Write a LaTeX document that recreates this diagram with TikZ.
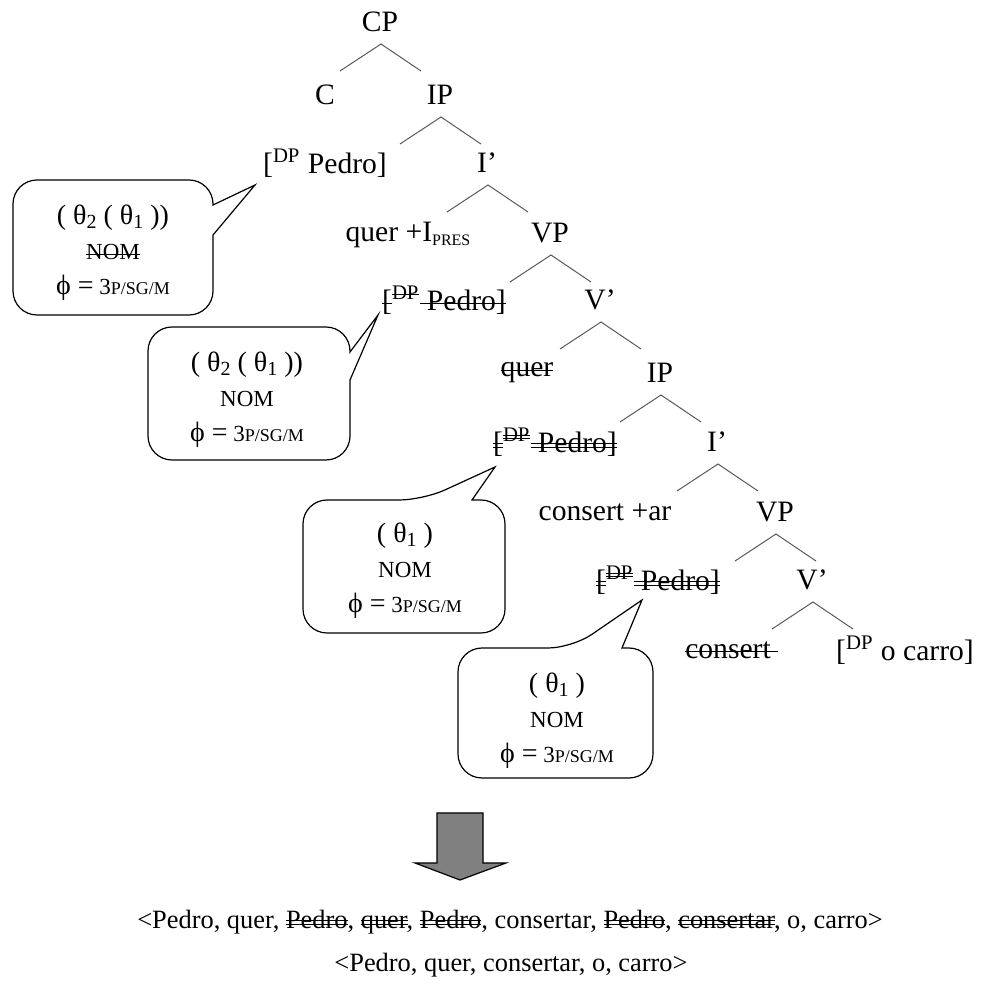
\documentclass[tikz,border=0pt]{standalone}
\usepackage{fontspec}
\setmainfont{Liberation Serif}
\usetikzlibrary{calc}
\newlength\strklen
\newcommand\strk[1]{\settowidth\strklen{#1}\rlap{\rule[0.45ex]{\strklen}{0.55pt}}#1}
\newcommand\dstrk[1]{\settowidth\strklen{#1}\rlap{\rule[0.3ex]{\strklen}{0.5pt}}\rlap{\rule[0.62ex]{\strklen}{0.5pt}}#1}
\newcommand\phifeat{{\fontsize{14}{17}\selectfont ϕ =} 3{\fontsize{9}{10}\selectfont P/SG/M}}
\newcommand\thsub[1]{θ{\fontsize{10}{10}\selectfont\raisebox{-0.45ex}{#1}}}
\begin{document}
\begin{tikzpicture}[x=0.5pt,y=-0.5pt,
	lbl/.style={font=\fontsize{14.8}{17}\selectfont,inner sep=1pt},
	bubtxt/.style={font=\fontsize{11.5}{17.5}\selectfont,align=center},
	bubble/.style={draw,line width=0.6pt,rounded corners=12pt},
	branch/.style={gray!70!black,line width=0.5pt}]
	\useasboundingbox (0,0) rectangle (997,988);
	% tree labels
	\node[lbl] (cp) at (380,22) {CP};
	\node[lbl] (c) at (325,95) {C};
	\node[lbl] (ip1) at (440,95) {IP};
	\node[lbl] (pedro1) at (325,163) {[\textsuperscript{DP} Pedro]};
	\node[lbl] (ibar1) at (487,163) {I’};
	\node[lbl] (quer1) at (408,235) {quer +I\raisebox{-0.3ex}{\fontsize{8}{9}\selectfont PRES}};
	\node[lbl] (vp1) at (550,233) {VP};
	\node[lbl] (pedro2) at (444,300) {\strk{[}\textsuperscript{\strk{DP}}\strk{ Pedro]}};
	\node[lbl] (vbar1) at (600,300) {V’};
	\node[lbl] (quer2) at (527,373) {\strk{quer}};
	\node[lbl] (ip2) at (660,373) {IP};
	\node[lbl] (pedro3) at (555,442) {\dstrk{[}\textsuperscript{\dstrk{DP}}\dstrk{ Pedro]}};
	\node[lbl] (ibar2) at (717,442) {I’};
	\node[lbl] (consert1) at (605,512) {consert +ar};
	\node[lbl] (vp2) at (775,512) {VP};
	\node[lbl] (pedro4) at (658,580) {\dstrk{[}\textsuperscript{\dstrk{DP}}\dstrk{ Pedro]}};
	\node[lbl] (vbar2) at (812,580) {V’};
	\node[lbl] (consert2) at (728,650) {\strk{consert }};
	\node[lbl] (carro) at (905,650) {[\textsuperscript{DP} o carro]};
	% branches
	\foreach \n in {cp,ip1,ibar1,vp1,vbar1,ip2,ibar2,vp2,vbar2}
	\draw[branch] ($(\n)+(-40,49)$) -- ($(\n)+(1,22)$) -- ($(\n)+(41,49)$);
	% speech bubbles
	\coordinate (t1) at ($(pedro1)+(-70,22)$);
	\coordinate (t2) at ($(pedro2)+(-66,15)$);
	\coordinate (t3) at ($(pedro3)+(-60,25)$);
	\coordinate (t4) at ($(pedro4)+(-16,20)$);
	\draw[bubble] (13,250) -- (13,180) -- (213,180) [sharp corners] -- (213,205) -- (t1) -- (213,235) [rounded corners=12pt] -- (213,315) -- (13,315) -- cycle;
	\draw[bubble] (148,400) -- (148,327) -- (350,327) [sharp corners] -- (350,352) -- (t2) -- (350,380) [rounded corners=12pt] -- (350,460) -- (148,460) -- cycle;
	\draw[bubble] (303,570) -- (303,500) -- (423,500) [sharp corners] -- (t3) -- (472,500) [rounded corners=12pt] -- (505,500) -- (505,633) -- (303,633) -- cycle;
	\draw[bubble] (458,710) -- (458,648) -- (572,648) [sharp corners] -- (t4) -- (622,648) [rounded corners=12pt] -- (653,648) -- (653,778) -- (458,778) -- cycle;
	\node[bubtxt] (info1) at (113,253) {{\fontsize{14}{17}\selectfont ( \thsub{2} ( \thsub{1} ))}\\\strk{NOM}\\\phifeat};
	\node[bubtxt] (info2) at (247,400) {{\fontsize{14}{17}\selectfont ( \thsub{2} ( \thsub{1} ))}\\NOM\\\phifeat};
	\node[bubtxt] (info3) at (405,571) {{\fontsize{14}{17}\selectfont ( \thsub{1} )}\\NOM\\\phifeat};
	\node[bubtxt] (info4) at (557,721) {{\fontsize{14}{17}\selectfont ( \thsub{1} )}\\NOM\\\phifeat};
	% block arrow and results
	\draw[fill=gray,line width=0.6pt] (437,813) -- (483,813) -- (483,863) -- (506,863) -- (460,880) -- (415,863) -- (437,863) -- cycle;
	\node[font=\fontsize{13.2}{15}\selectfont] (seq1) at (510,922) {<Pedro, quer, \dstrk{Pedro}, \dstrk{quer}, \dstrk{Pedro}, consertar, \dstrk{Pedro}, \dstrk{consertar}, o, carro>};
	\node[font=\fontsize{13.2}{15}\selectfont] (seq2) at (511,965) {<Pedro, quer, consertar, o, carro>};
\end{tikzpicture}
\end{document}
